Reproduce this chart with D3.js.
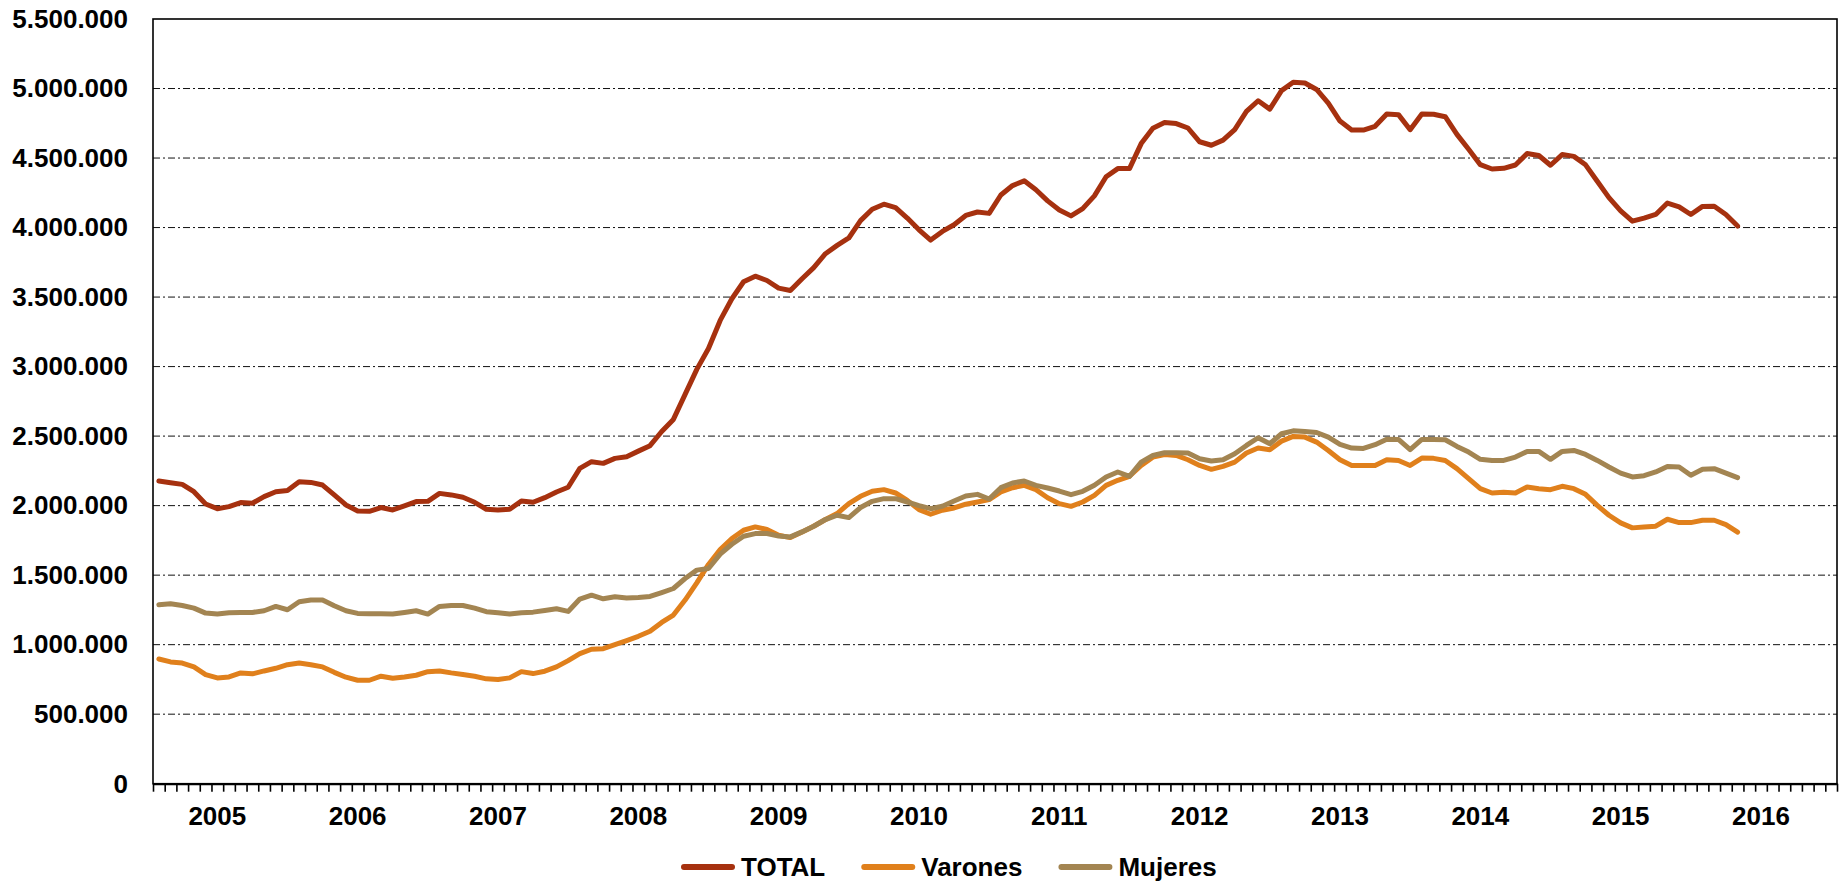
<!DOCTYPE html>
<html>
<head>
<meta charset="utf-8">
<script src="https://cdn.jsdelivr.net/npm/d3@7"></script>
<style>
  html, body { margin: 0; padding: 0; background: #fff; }
  svg { display: block; }
  text { font-family: "Liberation Sans", Arial, sans-serif; font-weight: bold; fill: #000; }
</style>
</head>
<body>
<svg id="chart" width="1843" height="883"></svg>
<script>
// ---- Data (millions of people, monthly Jan 2005 - Apr 2016) ----
const years = [2005, 2006, 2007, 2008, 2009, 2010, 2011, 2012, 2013, 2014, 2015, 2016];
const months = ["Ene","Feb","Mar","Abr","May","Jun","Jul","Ago","Sep","Oct","Nov","Dic"];
const categories = years.flatMap(y => months.map(m => m + " " + y));

const seriesNames = ["TOTAL", "Varones", "Mujeres"];
const seriesColors = ["#a6310f", "#e0801c", "#a38552"];

const total = [
  2.177,2.165,2.153,2.100,2.012,1.978,1.993,2.022,2.017,2.065,2.100,2.108,
  2.172,2.167,2.148,2.077,2.005,1.962,1.959,1.986,1.969,1.998,2.029,2.031,
  2.088,2.077,2.060,2.024,1.974,1.969,1.974,2.033,2.024,2.057,2.098,2.132,
  2.268,2.316,2.304,2.340,2.352,2.392,2.431,2.533,2.620,2.800,2.980,3.130,
  3.332,3.488,3.610,3.650,3.619,3.564,3.547,3.632,3.712,3.812,3.872,3.925,
  4.050,4.132,4.168,4.143,4.068,3.984,3.910,3.972,4.020,4.087,4.112,4.102,
  4.234,4.302,4.336,4.272,4.192,4.126,4.084,4.136,4.228,4.365,4.424,4.424,
  4.604,4.715,4.755,4.748,4.716,4.617,4.592,4.629,4.705,4.835,4.912,4.852,
  4.985,5.045,5.040,4.993,4.895,4.766,4.702,4.701,4.728,4.816,4.812,4.704,
  4.816,4.815,4.797,4.670,4.563,4.452,4.421,4.426,4.450,4.532,4.518,4.448,
  4.525,4.512,4.451,4.333,4.215,4.120,4.046,4.068,4.094,4.176,4.149,4.094,
  4.152,4.153,4.094,4.011
];
const varones = [
  0.897,0.876,0.868,0.840,0.785,0.761,0.768,0.797,0.790,0.811,0.830,0.856,
  0.868,0.856,0.840,0.801,0.766,0.744,0.744,0.773,0.758,0.768,0.780,0.806,
  0.811,0.797,0.785,0.773,0.754,0.749,0.761,0.806,0.792,0.809,0.840,0.885,
  0.935,0.967,0.971,1.000,1.029,1.060,1.096,1.160,1.213,1.321,1.445,1.577,
  1.684,1.763,1.823,1.847,1.828,1.787,1.770,1.811,1.852,1.900,1.943,2.014,
  2.067,2.103,2.115,2.091,2.038,1.971,1.938,1.967,1.983,2.010,2.026,2.043,
  2.098,2.129,2.146,2.115,2.057,2.014,1.995,2.026,2.074,2.146,2.182,2.211,
  2.289,2.349,2.368,2.361,2.330,2.289,2.261,2.282,2.313,2.378,2.414,2.402,
  2.464,2.498,2.493,2.457,2.397,2.330,2.289,2.289,2.289,2.330,2.325,2.289,
  2.342,2.340,2.325,2.266,2.194,2.122,2.091,2.096,2.091,2.134,2.122,2.115,
  2.139,2.122,2.081,2.002,1.931,1.876,1.840,1.847,1.852,1.902,1.878,1.878,
  1.895,1.895,1.864,1.809
];
const mujeres = [
  1.287,1.294,1.282,1.263,1.227,1.220,1.230,1.232,1.232,1.244,1.275,1.251,
  1.309,1.321,1.321,1.280,1.244,1.225,1.222,1.222,1.220,1.232,1.244,1.220,
  1.275,1.282,1.282,1.263,1.237,1.230,1.220,1.230,1.234,1.246,1.258,1.239,
  1.328,1.356,1.330,1.344,1.335,1.340,1.347,1.375,1.404,1.476,1.536,1.548,
  1.651,1.722,1.780,1.799,1.799,1.782,1.775,1.811,1.852,1.900,1.931,1.914,
  1.986,2.031,2.050,2.050,2.026,2.000,1.978,1.995,2.033,2.069,2.081,2.048,
  2.129,2.163,2.177,2.146,2.127,2.105,2.079,2.103,2.146,2.206,2.242,2.211,
  2.313,2.361,2.380,2.380,2.378,2.337,2.321,2.330,2.373,2.433,2.488,2.445,
  2.517,2.538,2.533,2.526,2.493,2.440,2.414,2.411,2.438,2.478,2.476,2.402,
  2.476,2.476,2.474,2.426,2.385,2.333,2.325,2.325,2.349,2.390,2.390,2.333,
  2.390,2.397,2.368,2.325,2.278,2.234,2.206,2.215,2.242,2.282,2.278,2.218,
  2.261,2.266,2.234,2.201
];
const yTicks = [0, 500000, 1000000, 1500000, 2000000, 2500000, 3000000, 3500000, 4000000, 4500000, 5000000, 5500000];
const seriesValues = [total, varones, mujeres];

// ---- Layout ----
const svg = d3.select("#chart");
const L = 153, R = 1837, T = 19, B = 783.7;

const x = d3.scaleBand().domain(categories).range([L, R]).padding(0);
const xi = d3.scaleLinear().domain([0, categories.length]).range([L, R]);
const y = d3.scaleLinear().domain([0, 5500000]).range([B, T]);

const loc = d3.formatLocale({decimal: ",", thousands: ".", grouping: [3], currency: ["", "€"]});
const fmt = loc.format(",d");

// gridlines
svg.append("g")
  .selectAll("line")
  .data(yTicks.filter(v => v > 0 && v < 5500000))
  .join("line")
  .attr("x1", L).attr("x2", R)
  .attr("y1", d => y(d)).attr("y2", d => y(d))
  .attr("stroke", "#111")
  .attr("stroke-width", 1)
  .attr("stroke-dasharray", "7,3,2,3");

// plot border
svg.append("rect")
  .attr("x", L).attr("y", T).attr("width", R - L).attr("height", B - T)
  .attr("fill", "none").attr("stroke", "#000").attr("stroke-width", 1.6);

// y axis labels
const yAxis = svg.append("g")
  .attr("transform", `translate(${L},0)`)
  .call(d3.axisLeft(y).tickValues(yTicks).tickFormat(fmt).tickSize(0).tickPadding(25));
yAxis.select(".domain").remove();
yAxis.selectAll("text")
  .attr("font-size", 26).attr("font-family", "Liberation Sans, Arial, sans-serif")
  .attr("font-weight", "bold").attr("fill", "#000");

// x axis ticks (month boundaries)
const xAxis = svg.append("g")
  .attr("transform", `translate(0,${B})`)
  .call(d3.axisBottom(xi).tickValues(d3.range(categories.length + 1)).tickFormat("").tickSize(8).tickSizeOuter(0));
xAxis.select(".domain").attr("stroke", "#000").attr("stroke-width", 2.2);
xAxis.selectAll(".tick line").attr("stroke", "#000").attr("stroke-width", 1.6);

// year labels
svg.append("g")
  .selectAll("text")
  .data(years)
  .join("text")
  .attr("x", d => x(months[5] + " " + d) + x.bandwidth() / 2)
  .attr("y", 825)
  .attr("text-anchor", "middle")
  .attr("font-size", 26)
  .text(d => d);

// lines
const line = d3.line()
  .x((d, i) => x(categories[i]) + x.bandwidth() / 2)
  .y(d => y(d * 1e6));

svg.append("g")
  .selectAll("path")
  .data(seriesValues)
  .join("path")
  .attr("d", d => line(d))
  .attr("fill", "none")
  .attr("stroke", (d, i) => seriesColors[i])
  .attr("stroke-width", 5)
  .attr("stroke-linejoin", "round")
  .attr("stroke-linecap", "round");

// legend
const lg = svg.append("g");
let cx = 681;
const ly = 867;
seriesNames.forEach((name, i) => {
  lg.append("line")
    .attr("x1", cx + 3).attr("x2", cx + 51)
    .attr("y1", ly).attr("y2", ly)
    .attr("stroke", seriesColors[i]).attr("stroke-width", 6).attr("stroke-linecap", "round");
  const t = lg.append("text")
    .attr("x", cx + 60).attr("y", ly + 9)
    .attr("font-size", 26)
    .text(name);
  cx = cx + 60 + t.node().getComputedTextLength() + 36;
});
</script>
</body>
</html>
